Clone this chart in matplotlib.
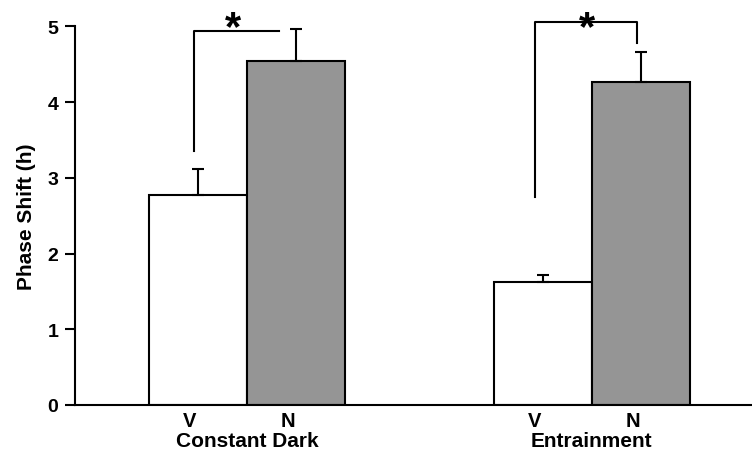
import numpy as np
import matplotlib.pyplot as plt

plt.rcParams['font.family'] = ['Liberation Sans', 'DejaVu Sans']
plt.rcParams['font.weight'] = 'bold'

groups = ['Constant Dark', 'Entrainment']
bar_labels = ['V', 'N']
vehicle = [2.77, 1.63]
vehicle_err = [0.35, 0.09]
treated = [4.54, 4.26]
treated_err = [0.43, 0.40]

# significance brackets: (left x, right x, left foot, top, right foot)
brackets = [(-0.54, 0.33, 3.35, 4.94, 4.94),
            (-0.58, 0.46, 2.75, 5.06, 4.78)]
star_x = [-0.14, -0.05]

group_pos = np.array([0.0, 3.51])
width = 1.0

fig = plt.figure(figsize=(7.52, 4.56), dpi=100)
ax = fig.add_axes([75 / 752, 50 / 456, 677 / 752, 378.7 / 456])

ekw = dict(ecolor='black', elinewidth=1.5, capthick=1.5)
ax.bar(group_pos - width / 2, vehicle, width, color='white', edgecolor='black',
       linewidth=1.5, yerr=[np.zeros(2), vehicle_err], capsize=4.5, error_kw=ekw)
ax.bar(group_pos + width / 2, treated, width, color='#959595', edgecolor='black',
       linewidth=1.5, yerr=[np.zeros(2), treated_err], capsize=4.5, error_kw=ekw)

for g, (x0, x1, y0, yt, y1), sx in zip(group_pos, brackets, star_x):
    ax.plot([g + x0, g + x0, g + x1, g + x1], [y0, yt, yt, y1],
            color='black', lw=1.5, clip_on=False)
    ax.text(g + sx, 4.97, '*', ha='center', va='center', fontsize=30,
            fontweight='bold', clip_on=False)

ax.set_xlim(-1.75, 5.14)
ax.set_ylim(0, 5)
ax.set_yticks(range(6))
ax.tick_params(axis='y', labelsize=14, width=1.5, length=7, pad=5)
ax.tick_params(axis='x', length=0, labelsize=14.5, pad=4)

xt = np.concatenate([group_pos - width / 2, group_pos + width / 2])
ax.set_xticks(np.sort(xt) - 0.08)
ax.set_xticklabels(['V', 'N', 'V', 'N'])
for g, name in zip(group_pos, groups):
    ax.text(g, -0.47, name, ha='center', va='center', fontsize=15,
            fontweight='bold', transform=ax.transData)

ax.set_ylabel('Phase Shift (h)', fontsize=15, fontweight='bold', labelpad=8)

for s in ['top', 'right']:
    ax.spines[s].set_visible(False)
for s in ['left', 'bottom']:
    ax.spines[s].set_linewidth(1.5)

fig.savefig('out.png', dpi=100)
